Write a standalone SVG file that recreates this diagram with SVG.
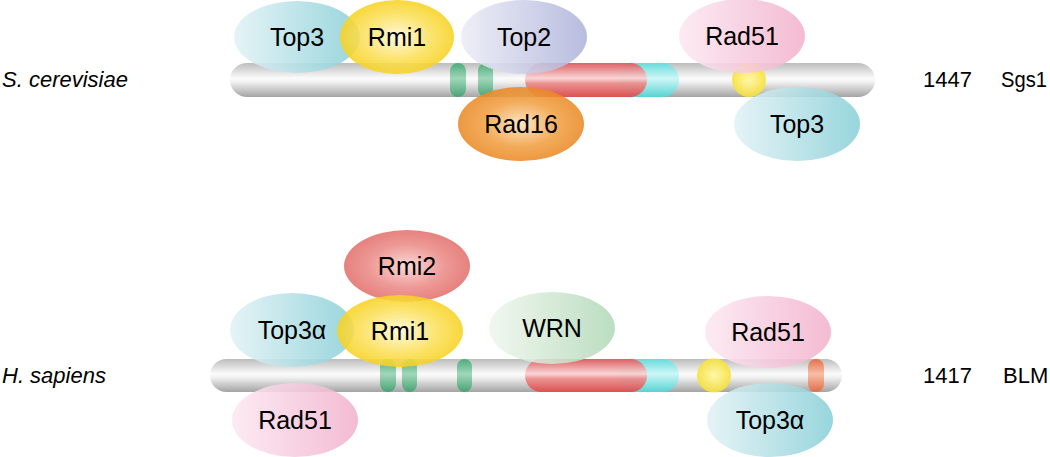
<svg xmlns="http://www.w3.org/2000/svg" width="1050" height="457" viewBox="0 0 1050 457">
<defs>
<linearGradient id="bar" x1="0" y1="0" x2="0" y2="1">
<stop offset="0" stop-color="#bdbdbd"/><stop offset="0.45" stop-color="#fbfbfb"/><stop offset="0.55" stop-color="#f2f2f2"/><stop offset="1" stop-color="#a4a4a4"/>
</linearGradient>
<linearGradient id="red" x1="0" y1="0" x2="0" y2="1">
<stop offset="0" stop-color="#e0585c"/><stop offset="0.45" stop-color="#f9d2d2"/><stop offset="0.6" stop-color="#ec8a8a"/><stop offset="1" stop-color="#e04a4a"/>
</linearGradient>
<linearGradient id="cyan" x1="0" y1="0" x2="0" y2="1">
<stop offset="0" stop-color="#5fdede"/><stop offset="0.45" stop-color="#c8f6f6"/><stop offset="1" stop-color="#50d8d8"/>
</linearGradient>
<linearGradient id="grn" x1="0" y1="0" x2="0" y2="1">
<stop offset="0" stop-color="#3aa86e"/><stop offset="0.45" stop-color="#8fd0ae"/><stop offset="1" stop-color="#38a36a"/>
</linearGradient>
<linearGradient id="org" x1="0" y1="0" x2="0" y2="1">
<stop offset="0" stop-color="#e8683e"/><stop offset="0.45" stop-color="#f6b79c"/><stop offset="1" stop-color="#e8683e"/>
</linearGradient>
<linearGradient id="gTop" x1="0" y1="0" x2="1" y2="0">
<stop offset="0" stop-color="#e2f2f5"/><stop offset="1" stop-color="#8ad0d8"/>
</linearGradient>
<linearGradient id="gTop2" x1="0" y1="0" x2="1" y2="0">
<stop offset="0" stop-color="#ececf6"/><stop offset="1" stop-color="#aeb4da"/>
</linearGradient>
<linearGradient id="gRad" x1="0" y1="0" x2="1" y2="0">
<stop offset="0" stop-color="#fce8f1"/><stop offset="1" stop-color="#f2b2cd"/>
</linearGradient>
<linearGradient id="gWrn" x1="0" y1="0" x2="1" y2="0">
<stop offset="0" stop-color="#f0f6ee"/><stop offset="1" stop-color="#b2d9b8"/>
</linearGradient>
<radialGradient id="gRmi1" cx="0.5" cy="0.5" r="0.55">
<stop offset="0" stop-color="#fff8d8"/><stop offset="0.55" stop-color="#fbe05a"/><stop offset="1" stop-color="#f6cf14"/>
</radialGradient>
<radialGradient id="gRad16" cx="0.5" cy="0.5" r="0.55">
<stop offset="0" stop-color="#fde2bc"/><stop offset="0.55" stop-color="#f1a044"/><stop offset="1" stop-color="#e9851f"/>
</radialGradient>
<radialGradient id="gRmi2" cx="0.5" cy="0.5" r="0.55">
<stop offset="0" stop-color="#fad2cf"/><stop offset="0.55" stop-color="#eb8b87"/><stop offset="1" stop-color="#e06a66"/>
</radialGradient>
<radialGradient id="gYel" cx="0.5" cy="0.5" r="0.5">
<stop offset="0" stop-color="#fff6a0"/><stop offset="1" stop-color="#f8e23a"/>
</radialGradient>
</defs>
<style>
.lbl{font-family:"Liberation Sans",Arial,sans-serif;font-size:22px;fill:#000}
.it{font-style:italic}
.nt{font-family:"Liberation Sans",Arial,sans-serif;font-size:25px;fill:#000;text-anchor:middle}
ellipse{opacity:0.88}
</style>

<g id="sgs1-bar">
<rect x="230" y="63" width="645" height="34" rx="17" fill="url(#bar)"/>
<rect x="450" y="63" width="16" height="34" rx="8" fill="url(#grn)" opacity="0.85"/>
<rect x="478" y="63" width="15" height="34" rx="7.5" fill="url(#grn)" opacity="0.85"/>
<rect x="620" y="63" width="59" height="34" rx="17" fill="url(#cyan)" opacity="0.9"/>
<rect x="525" y="63" width="122" height="34" rx="17" fill="url(#red)" opacity="0.92"/>
<circle cx="749" cy="80" r="17" fill="url(#gYel)" opacity="0.9"/>
</g>

<g id="sc-top3"><ellipse cx="297" cy="37" rx="63" ry="36" fill="url(#gTop)"/><text class="nt" x="297" y="46">Top3</text></g>
<g id="sc-rmi1"><ellipse cx="397" cy="37" rx="57" ry="37" fill="url(#gRmi1)"/><text class="nt" x="397" y="46">Rmi1</text></g>
<g id="sc-top2"><ellipse cx="524" cy="37" rx="63" ry="37" fill="url(#gTop2)"/><text class="nt" x="524" y="46">Top2</text></g>
<g id="sc-rad51"><ellipse cx="742" cy="36" rx="63" ry="37" fill="url(#gRad)"/><text class="nt" x="742" y="45">Rad51</text></g>
<g id="sc-rad16"><ellipse cx="521" cy="124" rx="63" ry="37" fill="url(#gRad16)"/><text class="nt" x="521" y="133">Rad16</text></g>
<g id="sc-top3b"><ellipse cx="797" cy="124" rx="63" ry="37" fill="url(#gTop)"/><text class="nt" x="797" y="133">Top3</text></g>

<g id="sc-labels">
<text class="lbl it" x="2" y="87">S. cerevisiae</text>
<text class="lbl" x="923" y="87">1447</text>
<text class="lbl" x="1001" y="87" textLength="46" lengthAdjust="spacingAndGlyphs">Sgs1</text>
</g>

<g id="blm-bar">
<rect x="210" y="359" width="632" height="33" rx="16.5" fill="url(#bar)"/>
<rect x="380" y="359" width="16" height="33" rx="8" fill="url(#grn)" opacity="0.85"/>
<rect x="402" y="359" width="15" height="33" rx="7.5" fill="url(#grn)" opacity="0.85"/>
<rect x="457" y="359" width="15" height="33" rx="7.5" fill="url(#grn)" opacity="0.85"/>
<rect x="620" y="359" width="59" height="33" rx="16.5" fill="url(#cyan)" opacity="0.9"/>
<rect x="525" y="359" width="122" height="33" rx="16.5" fill="url(#red)" opacity="0.92"/>
<circle cx="714" cy="375.5" r="17" fill="url(#gYel)" opacity="0.9"/>
<rect x="808" y="359" width="16" height="33" rx="8" fill="url(#org)" opacity="0.9"/>
</g>

<g id="hs-rmi2"><ellipse cx="407" cy="266" rx="63" ry="36" fill="url(#gRmi2)"/><text class="nt" x="407" y="275">Rmi2</text></g>
<g id="hs-top3a"><ellipse cx="292" cy="330" rx="62" ry="37" fill="url(#gTop)"/><text class="nt" x="292" y="339">Top3α</text></g>
<g id="hs-rmi1"><ellipse cx="400" cy="331" rx="63" ry="36" fill="url(#gRmi1)"/><text class="nt" x="400" y="340">Rmi1</text></g>
<g id="hs-wrn"><ellipse cx="552" cy="328" rx="63" ry="36" fill="url(#gWrn)"/><text class="nt" x="552" y="337">WRN</text></g>
<g id="hs-rad51"><ellipse cx="768" cy="332" rx="63" ry="36" fill="url(#gRad)"/><text class="nt" x="768" y="341">Rad51</text></g>
<g id="hs-rad51b"><ellipse cx="295" cy="420" rx="63" ry="37" fill="url(#gRad)"/><text class="nt" x="295" y="429">Rad51</text></g>
<g id="hs-top3ab"><ellipse cx="770" cy="420" rx="63" ry="37" fill="url(#gTop)"/><text class="nt" x="770" y="429">Top3α</text></g>

<g id="hs-labels">
<text class="lbl it" x="2" y="383">H. sapiens</text>
<text class="lbl" x="923" y="383">1417</text>
<text class="lbl" x="1003" y="383">BLM</text>
</g>
</svg>
